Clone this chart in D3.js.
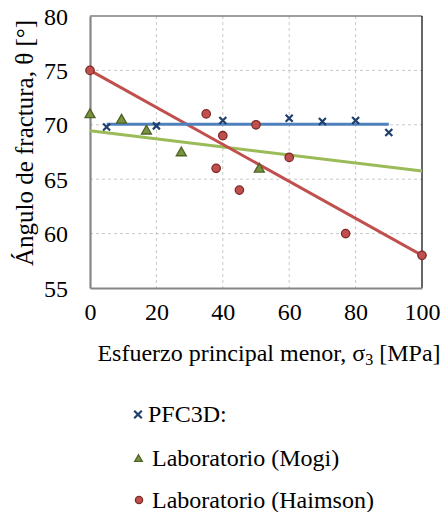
<!DOCTYPE html>
<html>
<head>
<meta charset="utf-8">
<script src="https://cdn.jsdelivr.net/npm/d3@7/dist/d3.min.js"></script>
<style>
  html, body { margin: 0; padding: 0; background: #fff; }
  svg text { font-family: 'Liberation Serif', 'Times New Roman', 'DejaVu Serif', serif; fill: #000; }
</style>
</head>
<body>
<svg id="chart" width="443" height="512"></svg>
<script>
// Simulated (PFC3D) fracture angles
const pfcSigma = [5, 20, 40, 60, 70, 80, 90];
const pfcAngle = [69.8, 69.9, 70.4, 70.6, 70.3, 70.4, 69.3];

// Laboratory results, Mogi
const mogiSigma = [0, 9.5, 17, 27.5, 51];
const mogiAngle = [71, 70.5, 69.5, 67.5, 66];

// Laboratory results, Haimson
const haimSigma = [0, 35, 38, 40, 45, 50, 60, 77, 100];
const haimAngle = [75, 71, 66, 69, 64, 70, 67, 60, 58];

// Linear trend lines: [sigma start, sigma end] and [angle start, angle end]
const pfcTrendSigma = [5, 90];
const pfcTrendAngle = [70.05, 70.05];
const mogiTrendSigma = [0, 100];
const mogiTrendAngle = [69.45, 65.75];
const haimTrendSigma = [0, 100];
const haimTrendAngle = [75, 58];

const xTicks = [0, 20, 40, 60, 80, 100];
const yTicks = [55, 60, 65, 70, 75, 80];

const legendLabels = ["PFC3D:", "Laboratorio (Mogi)", "Laboratorio (Haimson)"];

const svg = d3.select("#chart");
const plot = { left: 90, top: 16, right: 422, bottom: 288 };

const x = d3.scaleLinear().domain([0, 100]).range([plot.left, plot.right]);
const y = d3.scaleLinear().domain([55, 80]).range([plot.bottom, plot.top]);

const zip = (a, b) => a.map((v, i) => [v, b[i]]);

// Dashed gridlines
const grid = svg.append("g");
grid.selectAll("line.h").data(yTicks.filter(t => t > 55 && t < 80)).join("line")
  .attr("x1", plot.left).attr("x2", plot.right)
  .attr("y1", d => y(d)).attr("y2", d => y(d))
  .attr("stroke", "#c8c8c8").attr("stroke-width", 1).attr("stroke-dasharray", "3,3");
grid.selectAll("line.v").data(xTicks.filter(t => t > 0 && t < 100)).join("line")
  .attr("y1", plot.top).attr("y2", plot.bottom)
  .attr("x1", d => x(d)).attr("x2", d => x(d))
  .attr("stroke", "#c8c8c8").attr("stroke-width", 1).attr("stroke-dasharray", "3,3");

// Plot-area frame (top and right)
svg.append("line").attr("x1", plot.left).attr("x2", plot.right)
  .attr("y1", plot.top).attr("y2", plot.top)
  .attr("stroke", "#7f7f7f").attr("stroke-width", 1.5);
svg.append("line").attr("x1", plot.right).attr("x2", plot.right)
  .attr("y1", plot.top).attr("y2", plot.bottom)
  .attr("stroke", "#000").attr("stroke-width", 1.2);

// Axes
const xAxis = svg.append("g").attr("transform", `translate(0,${plot.bottom})`)
  .call(d3.axisBottom(x).tickValues(xTicks).tickSize(0).tickPadding(15));
const yAxis = svg.append("g").attr("transform", `translate(${plot.left},0)`)
  .call(d3.axisLeft(y).tickValues(yTicks).tickSize(0).tickPadding(22));
[xAxis, yAxis].forEach(g => {
  g.attr("font-family", null).attr("font-size", null);
  g.select(".domain").attr("stroke", "#868686").attr("stroke-width", 2.2);
  g.selectAll("text").style("font-size", "24px").attr("fill", "#000");
});
yAxis.selectAll("text").attr("dy", "0.34em");

// Trend lines
const line = d3.line().x(d => x(d[0])).y(d => y(d[1]));
const trends = [
  { pts: zip(mogiTrendSigma, mogiTrendAngle), color: "#9bbb59" },
  { pts: zip(haimTrendSigma, haimTrendAngle), color: "#c0504d" },
  { pts: zip(pfcTrendSigma, pfcTrendAngle), color: "#4f81bd" }
];
svg.append("g").selectAll("path").data(trends).join("path")
  .attr("d", d => line(d.pts)).attr("fill", "none")
  .attr("stroke", d => d.color).attr("stroke-width", 3);

// Marker shapes
const cross = (g, cx, cy, s) => g.append("path")
  .attr("d", `M${cx - s},${cy - s}L${cx + s},${cy + s}M${cx - s},${cy + s}L${cx + s},${cy - s}`)
  .attr("stroke", "#1f3f6e").attr("stroke-width", 2.2).attr("fill", "none");
const tri = (g, cx, cy, s) => g.append("path")
  .attr("d", `M${cx},${cy - s}L${cx + s},${cy + s * 0.75}L${cx - s},${cy + s * 0.75}Z`)
  .attr("fill", "#77933c").attr("stroke", "#4f6228").attr("stroke-width", 1.3);
const dot = (g, cx, cy, r) => g.append("circle")
  .attr("cx", cx).attr("cy", cy).attr("r", r)
  .attr("fill", "#c0504d").attr("stroke", "#7f2a28").attr("stroke-width", 1.3);

const marks = svg.append("g");
zip(mogiSigma, mogiAngle).forEach(d => tri(marks, x(d[0]), y(d[1]), 5));
zip(haimSigma, haimAngle).forEach(d => dot(marks, x(d[0]), y(d[1]), 4.2));
zip(pfcSigma, pfcAngle).forEach(d => cross(marks, x(d[0]), y(d[1]), 3.5));

// Axis titles
svg.append("text")
  .attr("transform", "translate(33,143) rotate(-90)")
  .attr("text-anchor", "middle").style("font-size", "25px")
  .text("Ángulo de fractura, θ [°]");

const xt = svg.append("text").attr("x", 269).attr("y", 361)
  .attr("text-anchor", "middle").style("font-size", "24px");
xt.append("tspan").text("Esfuerzo principal menor, σ");
xt.append("tspan").style("font-size", "16px").attr("dy", 4).text("3");
xt.append("tspan").attr("dy", -4).text(" [MPa]");

// Legend
const legend = svg.append("g");
const legendBase = [422, 466, 508];
const legendTextX = [148, 152, 152];
cross(legend, 138, legendBase[0] - 7.5, 3.8);
tri(legend, 138.5, legendBase[1] - 7.5, 3.8);
dot(legend, 139, legendBase[2] - 8, 3.6);
legend.selectAll("text").data(legendLabels).join("text")
  .attr("x", (d, i) => legendTextX[i]).attr("y", (d, i) => legendBase[i])
  .style("font-size", "24px").text(d => d);
</script>
</body>
</html>
